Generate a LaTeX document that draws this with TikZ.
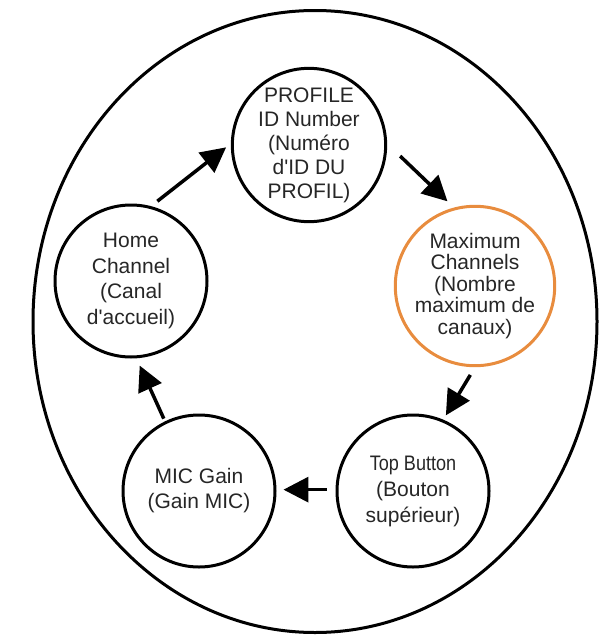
\documentclass[tikz,border=0pt]{standalone}
\usepackage{fontspec}
\setmainfont{Liberation Sans}
\usetikzlibrary{arrows.meta}
\definecolor{orangeedge}{RGB}{232,140,62}
\tikzset{
  stage/.style={draw=black, line width=3pt, circle, minimum size=152pt, inner sep=0pt,
    align=center, font=\fontsize{21}{24}\selectfont, text=black!85},
  flow/.style={line width=3.5pt, -{Triangle[length=25pt,width=25pt]}},
}
\begin{document}
\begin{tikzpicture}[x=1pt,y=-1pt]
\useasboundingbox (0,0) rectangle (601,637);
\draw[line width=3pt] (315,321.5) ellipse [x radius=282, y radius=311];
\node[stage] (profile) at (309,145) {PROFILE\\ID Number\\(Numéro\\d\textquotesingle ID DU\\PROFIL)};
\node[stage, draw=orangeedge, font=\fontsize{21}{21.5}\selectfont] (maxc) at (475,286) {Maximum\\Channels\\(Nombre\\maximum de\\canaux)};
\node[stage, font=\fontsize{21}{26}\selectfont] (top) at (413,491) {\scalebox{0.86}[1]{Top Button}\\(Bouton\\supérieur)};
\node[stage, font=\fontsize{21}{25}\selectfont] (mic) at (199,491) {MIC Gain\\(Gain MIC)};
\node[stage, font=\fontsize{21}{25.5}\selectfont] (home) at (131,281) {Home\\Channel\\(Canal\\d\textquotesingle accueil)};
\draw[flow, shorten <=8pt, shorten >=6pt] (home.75) -- (profile.179);
\draw[flow, shorten <=18pt, shorten >=9pt] (profile.1) -- (maxc.105);
\draw[flow, shorten <=9pt, shorten >=5pt] (maxc.270) -- (top.67);
\draw[flow, shorten <=9pt, shorten >=7pt] (top.179) -- (mic.1);
\draw[flow, shorten <=3pt, shorten >=8pt] (mic.116) -- (home.274);
\end{tikzpicture}
\end{document}
